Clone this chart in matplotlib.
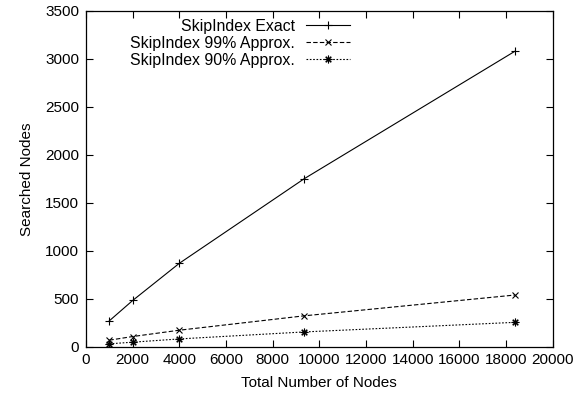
import matplotlib
matplotlib.use("Agg")
import matplotlib.pyplot as plt

plt.rcParams['font.family'] = ['Liberation Sans', 'DejaVu Sans']

total_nodes = [1000, 2000, 4000, 9350, 18380]
exact = [268, 480, 868, 1750, 3080]
approx99 = [66, 104, 170, 320, 537]
approx90 = [28, 45, 79, 152, 252]

labels = ["SkipIndex Exact", "SkipIndex 99% Approx.", "SkipIndex 90% Approx."]
xticks = list(range(0, 20001, 2000))
yticks = list(range(0, 3501, 500))

fig = plt.figure(figsize=(5.80, 3.99), dpi=100)
ax = fig.add_axes([86 / 580, 1 - 346.5 / 399, 466.7 / 580, 335.5 / 399])

fs = 11
ax.plot(total_nodes, exact, color='black', lw=0.8, marker='+', ms=6, mew=0.8,
        label=labels[0])
ax.plot(total_nodes, approx99, color='black', lw=0.8, marker='x', ms=4.5, mew=0.8,
        dashes=(4, 2), label=labels[1])
ax.plot(total_nodes, approx90, color='black', lw=0.8, marker=(8, 2, 0), ms=5.5,
        mew=0.8, dashes=(1.5, 1.5), label=labels[2])

ax.set_xlim(0, 20000)
ax.set_ylim(0, 3500)
ax.set_xticks(xticks)
ax.set_yticks(yticks)
ax.tick_params(direction='in', length=5, width=0.8, top=True, right=True,
               labelsize=fs, pad=5)
for s in ax.spines.values():
    s.set_linewidth(0.9)

ax.set_xlabel("Total Number of Nodes", fontsize=fs, labelpad=6)
ax.set_ylabel("Searched Nodes", fontsize=fs, labelpad=8)

ax.legend(loc='upper right', bbox_to_anchor=(0.5657, 0.977), frameon=False,
          markerfirst=False, fontsize=11.4, handlelength=2.8, handletextpad=0.68,
          labelspacing=0.12, borderaxespad=0.0, borderpad=0.0)

fig.savefig("out.png", dpi=100)
